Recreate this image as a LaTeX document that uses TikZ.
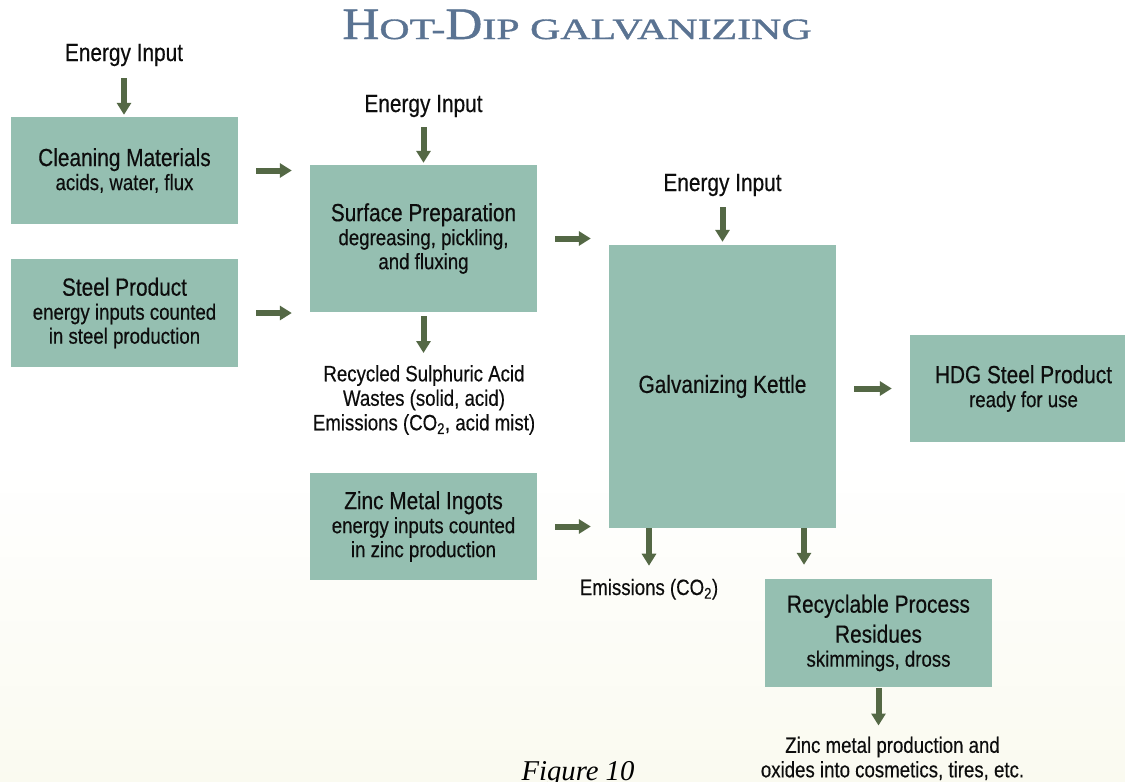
\documentclass[tikz,border=0pt]{standalone}
\usepackage{fontspec}
\setmainfont[FakeStretch=0.84,FakeBold=0.4]{Liberation Sans}
\newfontfamily\titlecaps[FakeStretch=1.14,FakeBold=1]{Liberation Serif}
\newfontfamily\titlesmall[FakeStretch=1.42,FakeBold=1.2]{Liberation Serif}
\newfontfamily\figfont{Liberation Serif}
\usetikzlibrary{arrows.meta, positioning}
\definecolor{boxgreen}{RGB}{149,191,177}
\definecolor{arrowgreen}{RGB}{84,104,69}
\definecolor{titleblue}{RGB}{90,115,146}
\definecolor{bgcream}{RGB}{250,250,240}
\newcommand{\boxtitle}[1]{{\fontsize{24.8}{24}\selectfont #1}}
\newcommand{\tbig}[1]{{\titlecaps\fontsize{45}{46}\selectfont #1}}
\newcommand{\tsmall}[1]{{\titlesmall\fontsize{29.5}{46}\selectfont #1}}
\tikzset{
  box/.style={
    rectangle, minimum width=227pt, minimum height=107pt, inner sep=0pt,
    align=center, fill=boxgreen, text=black!95,
    font=\fontsize{22.2}{24}\selectfont
  },
  note/.style={
    inner sep=0pt, align=center, text=black!95,
    font=\fontsize{22.2}{24.5}\selectfont
  },
  energy/.style={
    inner sep=0pt, anchor=base, text=black!95,
    font=\fontsize{24.8}{24}\selectfont
  },
  arrow/.style={
    -{Triangle[length=12pt,width=14pt]}, line width=6pt, draw=arrowgreen,
    shorten <=18pt, shorten >=18pt
  }
}
\begin{document}
\begin{tikzpicture}[x=1pt, y=-1pt]
    \useasboundingbox (0,0) rectangle (1125,782);
    \clip (0,0) rectangle (1125,782);
    % Background
    \fill[white] (0,0) rectangle (1125,460);
    \shade[top color=white, bottom color=bgcream] (0,460) rectangle (1125,782);

    % Title
    \node[anchor=base, text=titleblue] (title) at (577,39)
      {\tbig{H}\tsmall{OT-}\tbig{D}\tsmall{IP GALVANIZING}};

    % Process blocks
    \node[box] (clean) at (124.5,170.5) {\boxtitle{Cleaning Materials}\\acids, water, flux};
    \node[box, minimum height=108pt] (steel) at (124.5,313) {\boxtitle{Steel Product}\\energy inputs counted\\in steel production};
    \node[box, minimum height=147pt] (prep) at (423.5,238.5) {\boxtitle{Surface Preparation}\\degreasing, pickling,\\and fluxing};
    \node[box] (zinc) at (423.5,526.5) {\boxtitle{Zinc Metal Ingots}\\energy inputs counted\\in zinc production};
    \node[box, minimum height=283pt] (kettle) at (722.5,386.5) {\boxtitle{Galvanizing Kettle}};
    \node[box] (hdg) at (1023.5,388.5) {\boxtitle{HDG Steel Product}\\ready for use};
    \node[box, minimum height=108pt] (resid) at (878.5,633) {\boxtitle{Recyclable Process}\\[6pt]\boxtitle{Residues}\\skimmings, dross};

    % Inputs and outputs
    \node[energy] (en1) at (124,61) {Energy Input};
    \node[energy] (en2) at (423.5,112) {Energy Input};
    \node[energy] (en3) at (722.5,191) {Energy Input};
    \node[note, anchor=north] (recyc) at (424,365) {Recycled Sulphuric Acid\\Wastes (solid, acid)\\Emissions (CO\textsubscript{2}, acid mist)};
    \node[note, anchor=base] (emis) at (649,595) {Emissions (CO\textsubscript{2})};
    \node[note, anchor=north] (zincuse) at (892.5,736.5) {Zinc metal production and\\oxides into cosmetics, tires, etc.};

    % Flow arrows
    \draw[arrow] (clean.east) -- (clean.east -| prep.west);
    \draw[arrow] (steel.east) -- (steel.east -| prep.west);
    \draw[arrow] (prep.east) -- (prep.east -| kettle.west);
    \draw[arrow] (zinc.east) -- (zinc.east -| kettle.west);
    \draw[arrow] (kettle.east |- hdg.west) -- (hdg.west);
    \draw[arrow, shorten <=12pt, shorten >=2pt] (en1.south) -- (en1.south |- clean.north);
    \draw[arrow, shorten <=10pt, shorten >=2pt] (en2.south) -- (en2.south |- prep.north);
    \draw[arrow, shorten <=11pt, shorten >=3pt] (en3.south) -- (en3.south |- kettle.north);
    \draw[arrow, shorten <=4pt, shorten >=12pt] (prep.south) -- (prep.south |- recyc.north);
    \draw[arrow, shorten <=0pt, shorten >=13pt] (kettle.south -| emis.north) -- (emis.north);
    \draw[arrow, shorten <=0pt, shorten >=14pt] ([xshift=81.5pt]kettle.south) -- ([xshift=81.5pt]kettle.south |- resid.north);
    \draw[arrow, shorten <=1pt, shorten >=11pt] (resid.south) -- (resid.south |- zincuse.north);

    % Caption
    \node[anchor=base, font={\figfont\itshape\fontsize{28.7}{30}\selectfont}] (fig) at (578,780) {Figure 10};
\end{tikzpicture}
\end{document}
